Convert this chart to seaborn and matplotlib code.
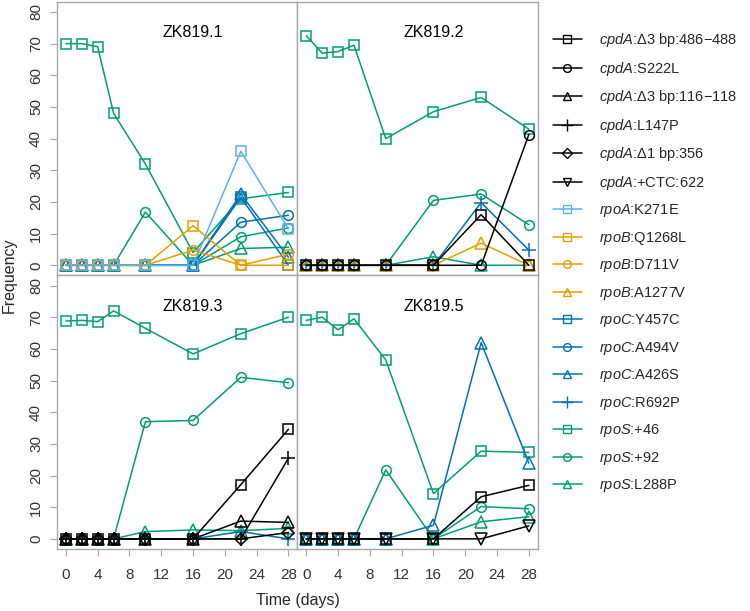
import matplotlib
matplotlib.use("Agg")
import matplotlib.pyplot as plt
from matplotlib.lines import Line2D
import seaborn as sns

# sampling days
days = [0, 2, 4, 6, 10, 16, 22, 28]

# legend entries (gene, change)
genes = ["cpdA"] * 6 + ["rpoA"] + ["rpoB"] * 3 + ["rpoC"] * 4 + ["rpoS"] * 3
changes = ["Δ3 bp:486−488", "S222L", "Δ3 bp:116−118", "L147P", "Δ1 bp:356", "+CTC:622",
           "K271E", "Q1268L", "D711V", "A1277V",
           "Y457C", "A494V", "A426S", "R692P",
           "+46", "+92", "L288P"]
keys = [g + ":" + c for g, c in zip(genes, changes)]

gene_colors = {"cpdA": "#000000", "rpoA": "#56B4E9", "rpoB": "#E69F00",
               "rpoC": "#0072B2", "rpoS": "#009E73"}
markers = ["s", "o", "^", "+", "D", "v",
           "s", "s", "o", "^",
           "s", "o", "^", "+",
           "s", "o", "^"]

panel_names = ["ZK819.1", "ZK819.2", "ZK819.3", "ZK819.5"]

zk1 = {
    "rpoA:K271E": [0, 0, 0, 0, 0, 0, 36, 11.5],
    "rpoB:Q1268L": [0, 0, 0, 0, 0, 12.5, 0, 0],
    "rpoB:D711V": [0, 0, 0, 0, 0, 4.8, 0, 3.5],
    "rpoC:Y457C": [0, 0, 0, 0, 0, 0, 21.5, 0],
    "rpoC:A494V": [0, 0, 0, 0, 0, 0, 13.6, 15.8],
    "rpoC:A426S": [0, 0, 0, 0, 0, 0, 22.5, 2.5],
    "rpoS:+46": [70, 70, 69, 48, 32, 4, 21, 23],
    "rpoS:+92": [0, 0, 0, 0, 16.8, 0, 9, 11.8],
    "rpoS:L288P": [0, 0, 0, 0, 0, 0, 5.3, 5.7],
}
zk2 = {
    "cpdA:Δ3 bp:486−488": [0, 0, 0, 0, 0, 0, 16, 0],
    "cpdA:S222L": [0, 0, 0, 0, 0, 0, 0, 41.3],
    "rpoB:A1277V": [0, 0, 0, 0, 0, 0, 7, 0],
    "rpoC:R692P": [0, 0, 0, 0, 0, 0, 19.8, 4.8],
    "rpoS:+46": [72.5, 67, 67.5, 69.5, 40, 48.5, 53, 43],
    "rpoS:+92": [0, 0, 0, 0, 0, 20.5, 22.5, 12.8],
    "rpoS:L288P": [0, 0, 0, 0, 0, 2.7, 0, 0],
}
zk3 = {
    "cpdA:Δ3 bp:486−488": [0, 0, 0, 0, 0, 0, 17.1, 34.6],
    "cpdA:Δ3 bp:116−118": [0, 0, 0, 0, 0, 0, 5.6, 5.2],
    "cpdA:L147P": [0, 0, 0, 0, 0, 0, 0, 25.5],
    "cpdA:Δ1 bp:356": [0, 0, 0, 0, 0, 0, 0, 2],
    "rpoC:R692P": [0, 0, 0, 0, 0, 0, 2.3, 0],
    "rpoS:+46": [68.8, 69, 68.6, 72, 66.5, 58.4, 64.8, 70],
    "rpoS:+92": [0, 0, 0, 0, 37, 37.4, 51, 49.3],
    "rpoS:L288P": [0, 0, 0, 0, 2.3, 2.8, 2.6, 3.3],
}
zk5 = {
    "cpdA:Δ3 bp:486−488": [0, 0, 0, 0, 0, 0, 13.3, 16.9],
    "cpdA:+CTC:622": [0, 0, 0, 0, 0, 0, 0, 4.1],
    "rpoC:A426S": [0, 0, 0, 0, 0, 4.3, 62, 23.9],
    "rpoS:+46": [69, 70, 66, 69.5, 56.5, 14.3, 27.7, 27.3],
    "rpoS:+92": [0, 0, 0, 0, 21.8, 0, 10.2, 9.5],
    "rpoS:L288P": [0, 0, 0, 0, 0, 0, 5.4, 7],
}
panel_data = [zk1, zk2, zk3, zk5]

sns.set_style("white")
plt.rcParams["font.family"] = ["Liberation Sans", "DejaVu Sans"]
plt.rcParams["mathtext.fontset"] = "custom"
plt.rcParams["mathtext.it"] = "Liberation Sans:italic"
plt.rcParams["mathtext.rm"] = "Liberation Sans"

grey = "#a8a8a8"
txt = "#333333"

fig, axes = plt.subplots(2, 2, figsize=(7.5, 6.11), dpi=100, sharex=True, sharey=True)
fig.subplots_adjust(left=0.076, right=0.717, top=0.997, bottom=0.1015, wspace=0, hspace=0)

def marker_size(m):
    if m == "D":
        return 6
    if m in ("^", "v"):
        return 8
    if m == "+":
        return 10
    return 7

for i, (ax, name, data) in enumerate(zip(axes.flat, panel_names, panel_data)):
    # last legend entries first, so cpdA ends up on top
    for key, g, mk in reversed(list(zip(keys, genes, markers))):
        if key not in data:
            continue
        col = gene_colors[g]
        sns.lineplot(x=days, y=data[key], color=col, marker=mk, ms=marker_size(mk),
                     mfc="none", mec=col, mew=1.1, lw=1.1, ax=ax, legend=False,
                     errorbar=None)
    ax.text(16, 73.5, name, ha="center", va="center", fontsize=11.5, color="black")
    ax.set_xlim(-1.12, 29.12)
    ax.set_ylim(-3.2, 83.2)
    ax.set_xticks(range(0, 29, 4))
    ax.set_yticks(range(0, 81, 10))
    ax.set_xlabel("")
    ax.set_ylabel("")
    for s in ax.spines.values():
        s.set_color(grey)
        s.set_linewidth(1.0)
    ax.tick_params(axis="both", direction="out", length=5, width=0.8, color=grey,
                   labelsize=11, labelcolor=txt)
    ax.tick_params(axis="x", pad=9, bottom=(i >= 2))
    ax.tick_params(axis="y", pad=5, labelrotation=90, left=(i % 2 == 0))
    for lab in ax.get_yticklabels():
        lab.set_va("center")

handles = []
labels = []
for g, c, mk in zip(genes, changes, markers):
    col = gene_colors[g]
    h = Line2D([0], [0], color=col, lw=1.1, marker=mk, ms=marker_size(mk) * 0.8,
               mfc="none", mec=col, mew=1.0)
    handles.append(h)
    labels.append(r"$\mathit{" + g + "}$:" + c)

fig.legend(handles, labels, loc="upper left", bbox_to_anchor=(0.729, 0.958),
           frameon=False, fontsize=10.5, handlelength=2.0, handletextpad=1.15,
           labelspacing=0.72, borderaxespad=0)

fig.text(0.012, 0.55, "Frequency", rotation=90, ha="center", va="center", fontsize=11.5)
fig.text(0.397, 0.017, "Time (days)", ha="center", va="center", fontsize=11.5)

plt.savefig("out.png", dpi=100)
